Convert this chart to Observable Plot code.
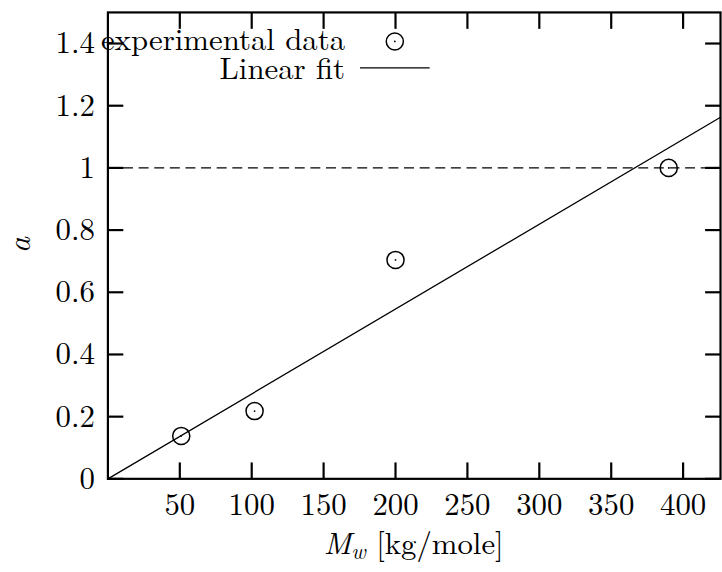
<!DOCTYPE html>
<html>
<head>
<meta charset="utf-8">
<script src="https://cdn.jsdelivr.net/npm/d3@7"></script>
<script src="https://cdn.jsdelivr.net/npm/@observablehq/plot@0.6"></script>
<style>
  html, body { margin: 0; padding: 0; background: #fff; overflow: hidden; }
  #chart svg { display: block; }
</style>
</head>
<body>
<div id="chart"></div>
<script>
// Measured exponent a versus molecular weight
const molWeight = [51, 102, 200, 390];        // M_w [kg/mole]
const exponentA = [0.138, 0.218, 0.704, 1.0]; // a
// Linear fit through the origin: a = fitSlope * M_w
const fitSlope = 0.00273;
const fitRange = [0, 426];
const xTicks = [50, 100, 150, 200, 250, 300, 350, 400];
const yTicks = [0, 0.2, 0.4, 0.6, 0.8, 1, 1.2, 1.4];
const referenceLevel = [1];
const legendLabels = ["experimental data", "Linear fit"];

const points = molWeight.map((m, i) => ({m, a: exponentA[i]}));
const fitLine = fitRange.map(m => ({m, a: fitSlope * m}));

const font = "'Latin Modern Roman', 'CMU Serif', 'Liberation Serif', serif";

const chart = Plot.plot({
  width: 726,
  height: 572,
  marginLeft: 108,
  marginRight: 2,
  marginTop: 12,
  marginBottom: 91,
  style: {fontFamily: font, fontSize: "31px", color: "#000", background: "#fff", overflow: "visible"},
  x: {domain: fitRange, label: null},
  y: {domain: [0, 1.5], label: null},
  marks: [
    Plot.ruleY(referenceLevel, {stroke: "#000", strokeWidth: 1.3, strokeDasharray: "10,5.7"}),
    Plot.line(fitLine, {x: "m", y: "a", stroke: "#000", strokeWidth: 1.3}),
    Plot.dot(points, {x: "m", y: "a", r: 8.6, stroke: "#000", strokeWidth: 1.5, fill: "none"}),
    Plot.dot(points, {x: "m", y: "a", r: 0.9, fill: "#000", stroke: "none"}),
    Plot.axisX(xTicks, {anchor: "bottom", tickSize: -16, tickPadding: 30, strokeWidth: 2.2, fontSize: 31, label: null}),
    Plot.axisX(xTicks, {anchor: "top", tickSize: -16, strokeWidth: 2.2, text: null, label: null}),
    Plot.axisY(yTicks, {anchor: "left", tickSize: -16, tickPadding: 29, strokeWidth: 2.2, fontSize: 31, label: null, tickFormat: d => String(d)}),
    Plot.axisY(yTicks, {anchor: "right", tickSize: -16, strokeWidth: 2.2, text: null, label: null}),
    Plot.frame({stroke: "#000", strokeWidth: 2.2})
  ]
});

document.getElementById("chart").appendChild(chart);

// Axis titles and key, drawn on top of the plot
const svg = d3.select(chart);
const x0 = 108, x1 = 724, yTop = 12, yBottom = 481;

const xTitle = svg.append("text")
  .attr("x", (x0 + x1) / 2)
  .attr("y", 557)
  .attr("text-anchor", "middle")
  .style("font-family", font)
  .style("font-size", "31px")
  .attr("fill", "#000");
xTitle.append("tspan").attr("font-style", "italic").text("M");
xTitle.append("tspan").attr("font-style", "italic").attr("font-size", "22px").attr("dy", 5).text("w");
xTitle.append("tspan").attr("dy", -5).text(" [kg/mole]");

svg.append("text")
  .attr("transform", `translate(30,${(yTop + yBottom) / 2}) rotate(-90)`)
  .attr("text-anchor", "middle")
  .attr("font-style", "italic")
  .style("font-family", font)
  .style("font-size", "32px")
  .attr("fill", "#000")
  .text("a");

const key = svg.append("g").style("font-family", font).style("font-size", "31px");
key.append("text").attr("x", 347).attr("y", 50).attr("text-anchor", "end").text(legendLabels[0]);
key.append("circle").attr("cx", 397).attr("cy", 41.7).attr("r", 8.6)
  .attr("fill", "none").attr("stroke", "#000").attr("stroke-width", 1.5);
key.append("circle").attr("cx", 397).attr("cy", 41.7).attr("r", 0.9).attr("fill", "#000");
key.append("text").attr("x", 347).attr("y", 79).attr("text-anchor", "end").text(legendLabels[1]);
key.append("line").attr("x1", 362).attr("x2", 432).attr("y1", 68.3).attr("y2", 68.3)
  .attr("stroke", "#000").attr("stroke-width", 1.3);
</script>
</body>
</html>
